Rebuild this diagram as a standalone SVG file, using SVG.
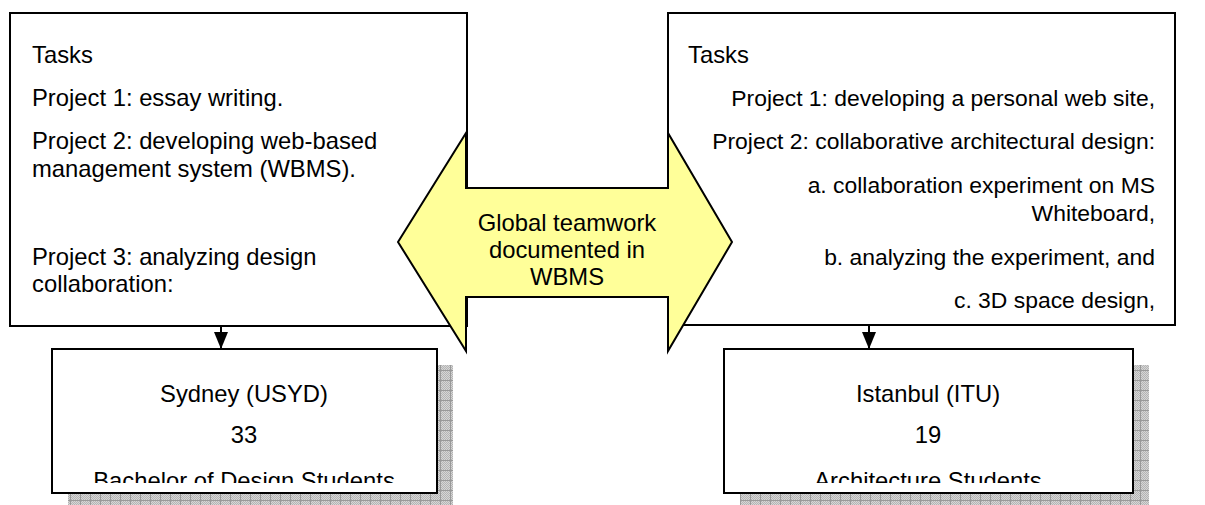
<svg xmlns="http://www.w3.org/2000/svg" width="1205" height="505" viewBox="0 0 1205 505">
  <defs>
    <pattern id="stip" width="2" height="2" patternUnits="userSpaceOnUse">
      <rect width="2" height="2" fill="#d6d6d6"/>
      <rect width="1" height="1" fill="#b4b4b4"/>
      <rect x="1" y="1" width="1" height="1" fill="#b4b4b4"/>
    </pattern>
    <pattern id="grid" width="10" height="10" patternUnits="userSpaceOnUse">
      <path d="M0 0.5 H10 M0.5 0 V10" stroke="#999" stroke-width="1" fill="none"/>
    </pattern>
    <marker id="ah" viewBox="0 0 17 14" refX="17" refY="7" markerWidth="17" markerHeight="14" markerUnits="userSpaceOnUse" orient="auto">
      <path d="M0 0 L17 7 L0 14 Z" fill="#000"/>
    </marker>
    <clipPath id="clipL"><rect x="53" y="350" width="383" height="133"/></clipPath>
    <clipPath id="clipR"><rect x="724" y="350" width="408" height="133"/></clipPath>
  </defs>
  <style>
    text { font-family: "Liberation Sans", Arial, Helvetica, sans-serif; font-size: 23.8px; fill: #000; }
    .sm { font-size: 22.9px; }
    .box { fill: #fff; stroke: #000; stroke-width: 2; }
    .r { text-anchor: end; }
    .c { text-anchor: middle; }
    .conn { stroke: #000; stroke-width: 2; fill: none; }
  </style>

  <g id="sydney">
    <rect x="68" y="365" width="385" height="145" fill="url(#stip)"/>
    <rect x="68" y="365" width="385" height="145" fill="url(#grid)"/>
    <rect class="box" x="52" y="349" width="385" height="144"/>
    <g clip-path="url(#clipL)">
      <text class="c" x="244" y="402">Sydney (USYD)</text>
      <text class="c" x="244" y="443">33</text>
      <text class="c" x="244" y="489">Bachelor of Design Students</text>
    </g>
  </g>

  <g id="istanbul">
    <rect x="740" y="365" width="409" height="145" fill="url(#stip)"/>
    <rect x="740" y="365" width="409" height="145" fill="url(#grid)"/>
    <rect class="box" x="724" y="349" width="409" height="144"/>
    <g clip-path="url(#clipR)">
      <text class="c" x="928" y="402">Istanbul (ITU)</text>
      <text class="c" x="928" y="443">19</text>
      <text class="c" x="928" y="489">Architecture Students</text>
    </g>
  </g>

  <g id="tasks-left">
    <rect class="box" x="10" y="13" width="457" height="313"/>
    <text x="32" y="63">Tasks</text>
    <text x="32" y="106">Project 1: essay writing.</text>
    <text x="32" y="149">Project 2: developing web-based</text>
    <text x="32" y="177">management system (WBMS).</text>
    <text x="32" y="265">Project 3: analyzing design</text>
    <text x="32" y="292">collaboration:</text>
  </g>

  <g id="tasks-right">
    <rect class="box" x="668" y="13" width="507" height="312"/>
    <text x="688" y="63">Tasks</text>
    <text class="r sm" x="1155" y="106">Project 1: developing a personal web site,</text>
    <text class="r sm" x="1155" y="149">Project 2: collaborative architectural design:</text>
    <text class="r sm" x="1155" y="193">a. collaboration experiment on MS</text>
    <text class="r sm" x="1155" y="221">Whiteboard,</text>
    <text class="r sm" x="1155" y="265">b. analyzing the experiment, and</text>
    <text class="r sm" x="1155" y="308">c. 3D space design,</text>
  </g>

  <g id="connectors">
    <line class="conn" x1="221" y1="326" x2="221" y2="349" marker-end="url(#ah)"/>
    <line class="conn" x1="869" y1="325" x2="869" y2="349" marker-end="url(#ah)"/>
  </g>

  <g id="global-teamwork">
    <polygon points="398,242 466,133 466,188 668,188 668,133 732,242 668,351 668,297 466,297 466,351" fill="#ffff99" stroke="#000" stroke-width="2" stroke-linejoin="miter"/>
    <text class="c" x="567" y="231">Global teamwork</text>
    <text class="c" x="567" y="258">documented in</text>
    <text class="c" x="567" y="285">WBMS</text>
  </g>
</svg>
